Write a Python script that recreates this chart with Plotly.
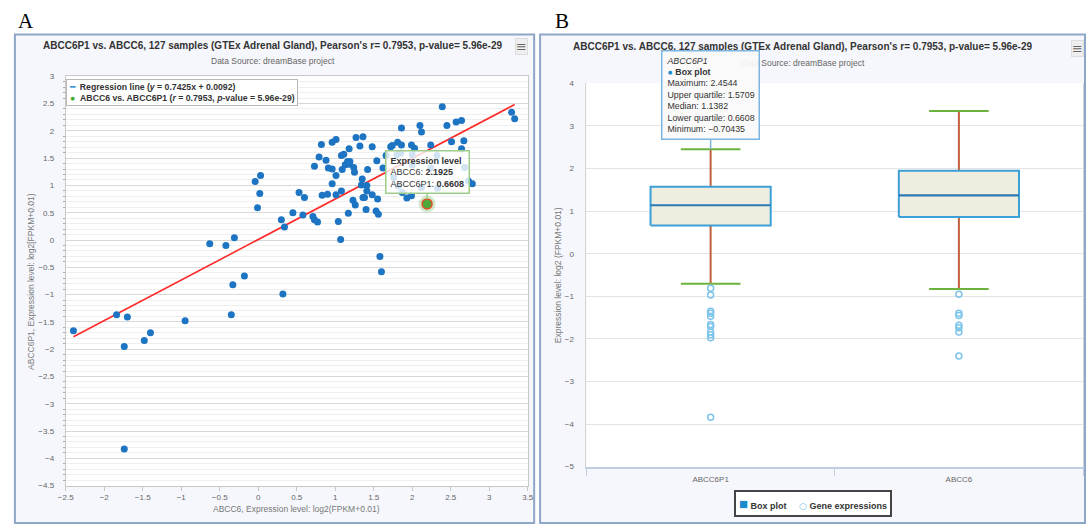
import plotly.graph_objects as go

W, H = 1092, 529

# ---------------- Panel A data (ABCC6 vs ABCC6P1) ----------------
abcc6 = [-2.40, -1.84, -1.70, -1.74, -1.74, -1.48, -1.40, -0.95, -0.63, -0.42,
         -0.31, -0.33, -0.35, -0.18, -0.04, 0.03, 0.02, -0.01, 0.30, 0.34,
         0.32, 0.45, 0.53, 0.60, 0.58, 0.71, 0.73, 0.77, 0.73, 0.79,
         0.82, 0.88, 0.83, 0.90, 0.91, 0.96, 0.96, 1.01, 0.96, 1.01,
         1.01, 1.08, 1.04, 1.07, 1.08, 1.11, 1.09, 1.13, 1.16, 1.18,
         1.18, 1.19, 1.24, 1.25, 1.23, 1.26, 1.17, 1.27, 1.36, 1.32,
         1.35, 1.34, 1.36, 1.38, 1.40, 1.42, 1.41, 1.41, 1.48, 1.48,
         1.54, 1.55, 1.53, 1.56, 1.58, 1.60, 1.62, 1.66, 1.72, 1.74,
         1.81, 1.86, 1.86, 1.80, 1.85, 1.99, 2.03, 2.00, 2.10, 2.12,
         2.24, 1.93, 1.99, 2.39, 2.45, 2.51, 2.57, 2.64, 2.67, 2.64,
         2.32, 2.68, 2.73, 2.78, 3.29, 3.33, 1.76, 1.82, 1.87, 2.12,
         2.33, 2.00, 2.24]
abcc6p1 = [-1.66, -1.37, -1.41, -1.95, -3.83, -1.84, -1.70, -1.48, -0.07, -0.10,
           0.04, -0.82, -1.37, -0.66, 1.07, 1.18, 0.85, 0.59, 0.37, 0.24,
           -0.99, 0.50, 0.87, 0.78, 0.46, 0.43, 0.37, 0.33, 1.35, 1.52,
           1.75, 1.46, 0.82, 0.84, 1.32, 1.30, 1.79, 1.84, 1.03, 1.18,
           0.83, 0.90, 0.34, 0.01, 1.55, 1.57, 1.29, 1.38, 1.44, 1.67,
           1.39, 1.44, 1.33, 1.24, 0.73, 0.64, 0.49, 1.88, 1.89, 1.72,
           1.12, 1.01, 0.78, 0.78, 0.56, 1.29, 1.00, 0.90, 0.83, 1.71,
           1.45, 0.75, 0.53, 0.47, -0.30, -0.58, 1.32, 1.55, 1.71, 1.73,
           1.79, 1.74, 2.05, 1.56, 1.59, 1.74, 1.68, 1.56, 2.10, 1.98,
           1.74, 0.77, 0.81, 2.44, 2.10, 1.80, 2.16, 2.19, 1.82, 1.67,
           1.55, 1.33, 1.08, 1.03, 2.34, 2.22, 1.14, 0.99, 0.87, 0.96,
           0.95, 1.38, 1.32]
reg_slope, reg_intercept = 0.7425, 0.0092
sel_abcc6, sel_abcc6p1 = 2.1925, 0.6608

# ---------------- Panel B data (box plots) ----------------
box_cats = ["ABCC6P1", "ABCC6"]
box_max = [2.4544, 3.35]
box_q3 = [1.5709, 1.95]
box_med = [1.1382, 1.37]
box_q1 = [0.6608, 0.86]
box_min = [-0.70435, -0.83]
outliers = [
    [-0.81, -0.97, -1.35, -1.40, -1.47, -1.66, -1.71, -1.84, -1.90, -1.97, -3.84],
    [-0.95, -1.40, -1.45, -1.68, -1.74, -1.84, -2.40],
]

FONT = "Liberation Sans"
BOX_HALF = 0.242
CAP_HALF = 0.12


def px(x):
    return x / W


def py(y):
    return 1 - y / H


fig = go.Figure()

# ---- Panel A traces ----
xr = [min(abcc6), max(abcc6)]
fig.add_trace(go.Scatter(x=xr, y=[reg_slope * v + reg_intercept for v in xr],
                         mode="lines", line=dict(color="#ff2a2a", width=1.6),
                         xaxis="x", yaxis="y", showlegend=False, hoverinfo="skip"))
fig.add_trace(go.Scatter(x=abcc6, y=abcc6p1, mode="markers",
                         marker=dict(color="#1c74c2", size=7),
                         xaxis="x", yaxis="y", showlegend=False))
fig.add_trace(go.Scatter(x=[sel_abcc6], y=[sel_abcc6p1], mode="markers",
                         marker=dict(color="rgba(110,190,90,0.3)", size=17),
                         xaxis="x", yaxis="y", showlegend=False))
fig.add_trace(go.Scatter(x=[sel_abcc6], y=[sel_abcc6p1], mode="markers",
                         marker=dict(color="#4da83a", size=10,
                                     line=dict(color="#e0502a", width=1.5)),
                         xaxis="x", yaxis="y", showlegend=False))

# ---- Panel B traces ----
for i in range(len(box_cats)):
    fig.add_trace(go.Scatter(x=[i, i, None, i, i],
                             y=[box_q3[i], box_max[i], None, box_min[i], box_q1[i]],
                             mode="lines", line=dict(color="#c2603c", width=2),
                             xaxis="x2", yaxis="y2", showlegend=False))
    fig.add_trace(go.Scatter(x=[i - CAP_HALF, i + CAP_HALF, None, i - CAP_HALF, i + CAP_HALF],
                             y=[box_max[i], box_max[i], None, box_min[i], box_min[i]],
                             mode="lines", line=dict(color="#6cb23c", width=2),
                             xaxis="x2", yaxis="y2", showlegend=False))
    fig.add_trace(go.Scatter(x=[i - BOX_HALF, i + BOX_HALF, i + BOX_HALF, i - BOX_HALF, i - BOX_HALF],
                             y=[box_q1[i], box_q1[i], box_q3[i], box_q3[i], box_q1[i]],
                             mode="lines", fill="toself", fillcolor="#eeeee0",
                             line=dict(color="#3d9fd8", width=2),
                             xaxis="x2", yaxis="y2", showlegend=False))
    fig.add_trace(go.Scatter(x=[i - BOX_HALF, i + BOX_HALF], y=[box_med[i], box_med[i]],
                             mode="lines", line=dict(color="#2b78b4", width=2.2),
                             xaxis="x2", yaxis="y2", showlegend=False))
    fig.add_trace(go.Scatter(x=[i] * len(outliers[i]), y=outliers[i], mode="markers",
                             marker=dict(symbol="circle-open", size=6, color="#7cc4ea",
                                         line=dict(width=1.5)),
                             xaxis="x2", yaxis="y2", showlegend=False))

# ---- Shapes: panel frames and plot areas ----
shapes = [
    dict(type="rect", xref="paper", yref="paper", x0=px(7), x1=px(533), y0=py(528), y1=py(31),
         line=dict(color="#8ea6c8", width=2), fillcolor="#f6f7fc", layer="below"),
    dict(type="rect", xref="paper", yref="paper", x0=px(539), x1=px(1091), y0=py(528), y1=py(31),
         line=dict(color="#8ea6c8", width=2), fillcolor="#f6f7fc", layer="below"),
    dict(type="rect", xref="x domain", yref="y domain", x0=0, x1=1, y0=0, y1=1,
         line=dict(width=0), fillcolor="white", layer="below"),
    dict(type="rect", xref="x2 domain", yref="y2 domain", x0=0, x1=1, y0=0, y1=1,
         line=dict(width=0), fillcolor="white", layer="below"),
]


def label(text, x, y, size, color="#333333", family=FONT, angle=0, **kw):
    d = dict(text=text, x=px(x), y=py(y), xref="paper", yref="paper", showarrow=False,
             xanchor="center", yanchor="middle", textangle=angle,
             font=dict(family=family, size=size, color=color))
    d.update(kw)
    return d


annotations = [
    label("A", 18, 17, 21, "black", "Liberation Serif"),
    label("B", 561, 17, 21, "black", "Liberation Serif"),
]
title_txt = "ABCC6P1 vs. ABCC6, 127 samples (GTEx Adrenal Gland), Pearson's r= 0.7953, p-value= 5.96e-29"
for cx, ty, sy in [(268, 42, 58), (805, 43, 60)]:
    annotations.append(label("<b>" + title_txt + "</b>", cx, ty, 10))
    annotations.append(label("Data Source: dreamBase project", cx, sy, 8.5, "#666666"))
for mx, my in [(520, 43), (1083, 45)]:
    annotations.append(label("≡", mx, my, 13, "#666666", "DejaVu Sans",
                             bgcolor="#eeeeee", bordercolor="#dddddd", borderwidth=1, borderpad=0))
annotations.append(label("ABCC6, Expression level: log2(FPKM+0.01)", 292, 514, 8.5, "#777777"))
annotations.append(label("ABCC6P1, Expression level: log2[FPKM+0.01)", 23, 282, 8.5, "#777777", angle=-90))
annotations.append(label("Expression level: log2 (FPKM+0.01)", 557, 276, 8.5, "#777777", angle=-90))
# legend A
annotations.append(dict(
    text=("<span style='color:#2f8fd8'>━</span>  <b>Regression line (<i>y</i> = 0.7425x + 0.0092)</b><br>"
          "<span style='color:#3cb030'>●</span>  <b>ABCC6 vs. ABCC6P1 (<i>r</i> = 0.7953, <i>p</i>-value = 5.96e-29)</b>"),
    x=px(59), y=py(76), xref="paper", yref="paper", xanchor="left", yanchor="top", align="left",
    showarrow=False, font=dict(family=FONT, size=8.7, color="#333333"),
    bgcolor="white", bordercolor="#b8b8b8", borderwidth=1, borderpad=2))
# legend B
annotations.append(label(
    ("<span style='color:#1a8ccc;font-size:15px'>■</span> <b>Box plot</b>     "
     "<span style='color:#7cc4ea;font-family:DejaVu Sans'>○</span> <b>Gene expressions</b>"),
    815, 508, 9, bgcolor="white", bordercolor="#444444", borderwidth=2, borderpad=3))
# tooltip A
annotations.append(dict(
    text="<b>Expression level</b><br>ABCC6: <b>2.1925</b><br>ABCC6P1: <b>0.6608</b>",
    x=sel_abcc6, y=sel_abcc6p1, xref="x", yref="y", showarrow=True, ax=0, ay=-32,
    arrowhead=0, arrowcolor="#9ccc8a", arrowwidth=1.5, standoff=5, align="left",
    font=dict(family=FONT, size=9, color="#333333"),
    bgcolor="rgba(255,255,255,0.8)", bordercolor="#9ccc8a", borderwidth=1.5, borderpad=4))
# tooltip B
annotations.append(dict(
    text=("<i>ABCC6P1</i><br><span style='color:#1a8ccc'>●</span> <b>Box plot</b><br>"
          "Maximum: 2.4544<br>Upper quartile: 1.5709<br>Median: 1.1382<br>"
          "Lower quartile: 0.6608<br>Minimum: −0.70435"),
    x=0, y=box_max[0], xref="x2", yref="y2", showarrow=True, ax=0, ay=-54,
    arrowhead=0, arrowcolor="#7cb5e0", arrowwidth=1.5, standoff=0, align="left",
    font=dict(family=FONT, size=8.8, color="#333333"),
    bgcolor="rgba(250,250,250,0.92)", bordercolor="#7cb5e0", borderwidth=1.5, borderpad=4))

tickfont = dict(family=FONT, size=8, color="#666666")

fig.update_layout(
    width=W, height=H, margin=dict(l=0, r=0, t=0, b=0),
    paper_bgcolor="white", plot_bgcolor="white", showlegend=False,
    shapes=shapes, annotations=annotations,
    xaxis=dict(domain=[px(58.5), px(526.5)], range=[-2.5, 3.5], dtick=0.5, tick0=0,
               showgrid=False, zeroline=False, showline=True, linecolor="#c8c8c8", mirror=True,
               ticks="outside", ticklen=4, tickcolor="#c8c8c8", tickfont=tickfont,
               anchor="y", fixedrange=True),
    yaxis=dict(domain=[py(490), py(73.5)], range=[-4.5, 3], dtick=0.5, tick0=0,
               showgrid=True, gridcolor="#d8d8d8", zeroline=False,
               showline=True, linecolor="#c8c8c8", mirror=True, ticks="",
               ticklabelstandoff=9, tickfont=tickfont, anchor="x",
               minor=dict(dtick=0.1, showgrid=True, gridcolor="#efefef",
                          ticks="outside", ticklen=2, tickcolor="#aaaaaa")),
    xaxis2=dict(domain=[px(586), px(1089)], range=[-0.5, 1.5], tickvals=[0, 1], ticktext=box_cats,
                showgrid=False, zeroline=False, showline=True, linecolor="#c0cfe0", linewidth=1.5,
                mirror=False, ticks="", tickfont=tickfont, anchor="y2", ticklabelstandoff=4,
                minor=dict(tick0=-0.5, dtick=1, ticks="outside", ticklen=8, tickcolor="#c0cfe0")),
    yaxis2=dict(domain=[py(470.7), py(80.7)], range=[-5, 4], dtick=1,
                showgrid=True, gridcolor="#e4e4e4", zeroline=False,
                showline=True, linecolor="#d4d4d4", mirror=True, ticks="",
                ticklabelstandoff=10, tickfont=tickfont, anchor="x2"),
)

fig.write_html("out.html", config={"displayModeBar": False},
               post_script="document.body.style.margin='0';document.body.style.overflow='hidden';")
